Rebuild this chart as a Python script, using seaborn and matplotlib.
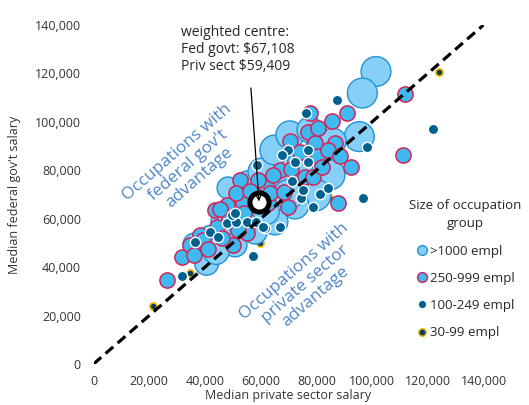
import matplotlib
matplotlib.use("Agg")
import matplotlib.pyplot as plt
from matplotlib.lines import Line2D
from matplotlib.ticker import FuncFormatter
import seaborn as sns

# Occupation groups: median private-sector salary (x) vs median federal salary (y)
large_x = [101400, 96500, 95400, 40600, 36400, 42500, 47200, 52600, 55500, 60500, 65100, 70500,
           77700, 81300, 84900, 79500, 72300, 65100, 58000, 50800, 67000, 59800, 48300, 74100,
           44000, 53500, 62000, 70000, 86000]
large_y = [120800, 111900, 93900, 41600, 49200, 51200, 58700, 65700, 74000, 79300, 88400, 94600,
           96700, 88400, 78100, 69800, 65700, 58700, 54500, 49200, 74000, 69800, 72700, 82200,
           46500, 58000, 63000, 70000, 92000]
large_emp = [2900, 2900, 2900, 1870, 1870, 2900, 2550, 2900, 2550, 2550, 2900, 2550,
             2200, 2900, 2900, 3330, 2550, 2200, 1870, 1870, 2900, 2550, 1570, 2200,
             2200, 2550, 2200, 2900, 2200]

mid_x = [77700, 76900, 70500, 79500, 80700, 66900, 75900, 62200, 59000, 85700, 90900, 86700,
         92300, 87600, 84300, 78900, 111800, 111200, 26300, 31700, 34600, 38200, 43600, 47900,
         53700, 44300, 39300, 55100, 50100, 74100, 64400, 69800, 62600, 52600,
         36000, 41000, 46000, 52000, 48500, 54000, 45500, 51000, 56000, 63500, 68500, 71000,
         82000, 88500, 80500]
mid_y = [103700, 95700, 92300, 91200, 86000, 80200, 77100, 73300, 76000, 100400, 103600, 91200,
         81500, 66400, 88400, 77400, 111600, 86400, 34700, 44100, 49200, 53300, 63600, 65700,
         66500, 56600, 51200, 54100, 49200, 87600, 78100, 64900, 66500, 76000,
         45000, 47500, 52000, 55500, 60500, 62500, 64000, 70500, 71500, 70500, 71000, 80500,
         81500, 86000, 97500]

small_x = [76300, 87500, 121800, 98100, 96800, 78900, 81300, 84300, 74400, 71100, 66900, 61600,
           72300, 77100, 77100, 69900, 67600, 58800, 57100, 31900, 41800, 44800, 47800, 51100,
           49600, 55000, 58300, 60900, 36400, 75300, 50800]
small_y = [103800, 109000, 97200, 89500, 68500, 65000, 70200, 72600, 68500, 75700, 56500, 56100,
           83600, 88400, 83600, 88400, 86400, 82200, 44600, 36500, 54700, 52600, 58100, 58800,
           61600, 58800, 58800, 56700, 50500, 71900, 62300]

tiny_x = [124000, 85700, 66600, 84600, 59800, 21200, 34600]
tiny_y = [120500, 93500, 93500, 68500, 49900, 24100, 37600]

centre_priv = 59409
centre_fed = 67108

parity = [0, 140000]
ticks = [0, 20000, 40000, 60000, 80000, 100000, 120000, 140000]
group_labels = [">1000 empl", "250-999 empl", "100-249 empl", "30-99 empl"]

sns.set_theme(style="white")
plt.rcParams["font.family"] = ["Open Sans", "DejaVu Sans"]
plt.rcParams["text.color"] = "#262626"

fig = plt.figure(figsize=(5.29, 4.05), dpi=100)
ax = fig.add_axes([93.5 / 529, 41 / 405, 390 / 529, 339 / 405])

large_fill, large_edge = "#86D0F8", "#2192D6"
mid_fill, mid_edge = "#3FBAF0", "#D3245B"
small_fill = "#00618F"
tiny_fill, tiny_edge = "#003F5F", "#F0B400"

sns.scatterplot(x=tiny_x, y=tiny_y, s=26, color=tiny_fill, edgecolor=tiny_edge,
                linewidth=1.2, legend=False, ax=ax, zorder=2)
sns.scatterplot(x=large_x, y=large_y, size=large_emp, sizes=(250, 530),
                color=large_fill, edgecolor=large_edge, linewidth=1.0,
                legend=False, ax=ax, zorder=3)
sns.scatterplot(x=mid_x, y=mid_y, s=120, color=mid_fill, edgecolor=mid_edge,
                linewidth=1.1, legend=False, ax=ax, zorder=4)
sns.scatterplot(x=small_x, y=small_y, s=55, color=small_fill, edgecolor="white",
                linewidth=1.0, legend=False, ax=ax, zorder=5)

# 45-degree parity line
sns.lineplot(x=parity, y=parity, color="black", linewidth=2.3, ax=ax, zorder=6)
ax.lines[-1].set_linestyle((0, (3.2, 1.8)))

# weighted centre marker with pointer
ax.scatter([centre_priv], [centre_fed], s=190, facecolor="white", edgecolor="black",
           linewidth=3.6, zorder=7)
ax.annotate("", xy=(centre_priv, centre_fed), xytext=(56500, 114000),
            arrowprops=dict(arrowstyle="->", color="black", lw=0.9,
                            shrinkA=0, shrinkB=0, mutation_scale=9), zorder=8)
ax.text(31400, 140000,
        f"weighted centre:\nFed govt: ${centre_fed:,}\nPriv sect ${centre_priv:,}",
        ha="left", va="top", fontsize=10, linespacing=1.2, color="#262626")

blue_txt = "#4F86C6"
ax.text(34000, 82000, "Occupations with\nfederal gov't\nadvantage", rotation=41,
        rotation_mode="anchor", ha="center", va="center", fontsize=12.3,
        color=blue_txt, multialignment="center", linespacing=1.05)
ax.text(75900, 33000, "Occupations with\nprivate sector\nadvantage", rotation=41,
        rotation_mode="anchor", ha="center", va="center", fontsize=12.3,
        color=blue_txt, multialignment="center", linespacing=1.05)

ax.set_xlim(0, 140000)
ax.set_ylim(0, 140000)
ax.set_xticks(ticks)
ax.set_yticks(ticks)
fmt = FuncFormatter(lambda v, p: f"{int(v):,}")
ax.xaxis.set_major_formatter(fmt)
ax.yaxis.set_major_formatter(fmt)
ax.tick_params(axis="both", length=0, labelsize=9, labelcolor="#333333")
ax.tick_params(axis="x", pad=8)
ax.tick_params(axis="y", pad=9)
for sp in ax.spines.values():
    sp.set_visible(False)
ax.grid(False)
ax.set_xlabel("Median private sector salary", fontsize=9, color="#333333", labelpad=1)
ax.set_ylabel("Median federal gov't salary", fontsize=9, color="#333333", labelpad=10)

handles = [
    Line2D([], [], ls="", marker="o", markersize=7, markerfacecolor=large_fill,
           markeredgecolor=large_edge, markeredgewidth=1.0),
    Line2D([], [], ls="", marker="o", markersize=7, markerfacecolor=mid_fill,
           markeredgecolor=mid_edge, markeredgewidth=1.1),
    Line2D([], [], ls="", marker="o", markersize=6, markerfacecolor=small_fill,
           markeredgecolor="white", markeredgewidth=0.8),
    Line2D([], [], ls="", marker="o", markersize=5.3, markerfacecolor=tiny_fill,
           markeredgecolor=tiny_edge, markeredgewidth=1.1),
]
leg = fig.legend(handles, group_labels, title="Size of occupation\ngroup",
                 loc="upper left", bbox_to_anchor=(404 / 529, 1 - 194 / 405),
                 frameon=False, fontsize=9.5, title_fontsize=9.5, labelspacing=1.08,
                 handlelength=0.8, handletextpad=0.2, borderaxespad=0)
leg.get_title().set_multialignment("center")
leg.get_title().set_linespacing(1.5)

fig.savefig("out.png", dpi=100)
